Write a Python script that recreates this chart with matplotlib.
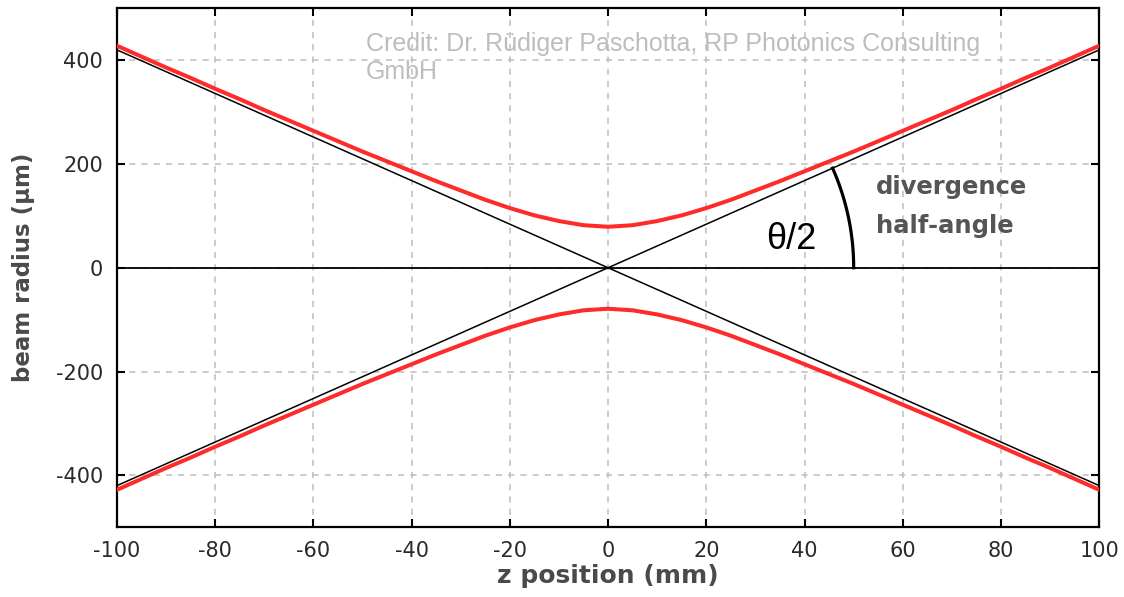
import numpy as np
import matplotlib.pyplot as plt

plt.rcParams['axes.unicode_minus'] = False

# beam radius (upper branch, µm) at z positions (mm)
z = [-100, -95, -90, -85, -80, -75, -70, -65, -60, -55, -50, -45, -40, -35, -30, -25, -20, -15, -10, -5,
     0, 5, 10, 15, 20, 25, 30, 35, 40, 45, 50, 55, 60, 65, 70, 75, 80, 85, 90, 95, 100]
w_upper = [428, 407, 386, 366, 345, 325, 304, 284, 264, 244, 224, 205, 186, 167, 149, 131, 115, 101, 90, 82,
           79, 82, 90, 101, 115, 131, 149, 167, 186, 205, 224, 244, 264, 284, 304, 325, 345, 366, 386, 407, 428]
w_lower = [-v for v in w_upper]

# asymptote end points
asym_z = [-100, 100]
asym_up = [420, -420]
asym_down = [-420, 420]

fig = plt.figure(figsize=(11.24, 5.97), dpi=100)
ax = fig.add_axes([0.104, 0.117, 0.874, 0.869])

ax.set_xlim(-100, 100)
ax.set_ylim(-500, 500)
ax.set_xticks(range(-100, 101, 20))
ax.set_yticks([-400, -200, 0, 200, 400])

ax.grid(True, color='#bdbdbd', linestyle=(0, (4, 4)), linewidth=1.1)
ax.axhline(0, color='black', linewidth=1.3, zorder=2)

ax.plot(asym_z, asym_up, color='black', linewidth=1.1, zorder=3)
ax.plot(asym_z, asym_down, color='black', linewidth=1.1, zorder=3)
ax.plot(z, w_upper, color='#ff2a2a', linewidth=2.9, zorder=4)
ax.plot(z, w_lower, color='#ff2a2a', linewidth=2.9, zorder=4)

# divergence angle arc (circular on screen)
pos = ax.get_position()
px_mm = pos.width * 1124 / 200
px_um = pos.height * 597 / 1000
k = px_mm / px_um
slope = asym_down[1] / asym_z[1]
ang = np.arctan(slope / k)
t = np.linspace(0, ang, 60)
R = 50
ax.plot(R * np.cos(t), R * np.sin(t) * k, color='black', linewidth=2.3, zorder=5)

ax.text(37.4, 55, 'θ/2', fontsize=26, family='Liberation Sans', color='black',
        ha='center', va='center')
ax.text(54.5, 118, 'divergence\nhalf-angle', fontsize=17.5, fontweight='bold', color='#555555',
        ha='left', va='center', linespacing=1.75)
ax.text(0.2536, 0.955, 'Credit: Dr. Rüdiger Paschotta, RP Photonics Consulting\nGmbH',
        transform=ax.transAxes, fontsize=18, family='Liberation Sans', color='#bdbdbd',
        ha='left', va='top', linespacing=1.25)

ax.tick_params(direction='in', length=6, width=1.5, top=True, right=True,
               labelsize=15, labelcolor='#2a2a2a', pad=10)
for s in ax.spines.values():
    s.set_linewidth(1.6)

ax.set_xlabel('z position (mm)', fontsize=18, fontweight='bold', color='#4a4a4a', labelpad=2)
ax.set_ylabel('beam radius (µm)', fontsize=16.5, fontweight='bold', color='#4a4a4a', labelpad=15)

plt.savefig('out.png', dpi=100)
